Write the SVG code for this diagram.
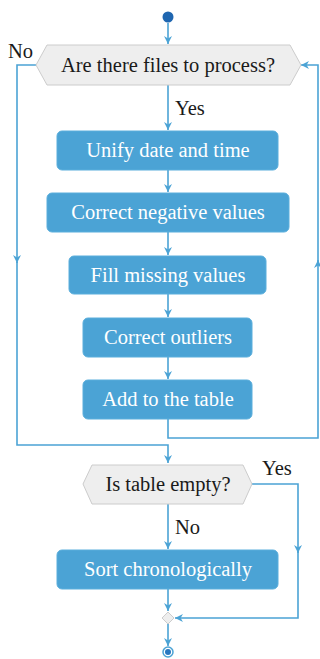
<svg xmlns="http://www.w3.org/2000/svg" width="320" height="659" viewBox="0 0 320 659">
<style>
.box{fill:#4ba3d5;stroke:#5aaedc;stroke-width:1}
.btxt{font-family:"Liberation Serif",serif;font-size:20.5px;fill:#ffffff;text-anchor:middle}
.hex{fill:#eeeeee;stroke:#cccccc;stroke-width:1}
.htxt{font-family:"Liberation Serif",serif;font-size:20.5px;fill:#1a1a1a;text-anchor:middle}
.lbl{font-family:"Liberation Serif",serif;font-size:20.5px;fill:#1a1a1a}
.ln{fill:none;stroke:#4ba3d5;stroke-width:1.6}
</style>
<defs>
<marker id="ah" viewBox="0 0 10 10" refX="10" refY="5" markerWidth="8" markerHeight="8" markerUnits="userSpaceOnUse" orient="auto">
<path d="M0,0 L10,5 L0,10 L3,5 z" fill="#4ba3d5"/>
</marker>
</defs>
<g id="connectors">
<path class="ln" d="M168,23 V44" marker-end="url(#ah)"/>
<path class="ln" d="M168,85 V130" marker-end="url(#ah)"/>
<path class="ln" d="M168,170 V192" marker-end="url(#ah)"/>
<path class="ln" d="M168,232 V255" marker-end="url(#ah)"/>
<path class="ln" d="M168,294 V317" marker-end="url(#ah)"/>
<path class="ln" d="M168,357 V379" marker-end="url(#ah)"/>
<path class="ln" d="M36,65 H17 V263" marker-end="url(#ah)"/>
<path class="ln" d="M17,262 V445 H168 V463" marker-end="url(#ah)"/>
<path class="ln" d="M168,419 V438 H318 V260" marker-end="url(#ah)"/>
<path class="ln" d="M318,262 V65 H301" marker-end="url(#ah)"/>
<path class="ln" d="M168,504 V549" marker-end="url(#ah)"/>
<path class="ln" d="M252,484 H298 V553" marker-end="url(#ah)"/>
<path class="ln" d="M298,551 V618 H175" marker-end="url(#ah)"/>
<path class="ln" d="M168,589 V611" marker-end="url(#ah)"/>
<path class="ln" d="M168,624 V646" marker-end="url(#ah)"/>
</g>
<g id="start"><circle cx="168" cy="17" r="5.5" fill="#1f66b0"/></g>
<g id="q1">
<polygon class="hex" points="36,65 47,45 290,45 301,65 290,85 47,85"/>
<text class="htxt" x="168" y="72">Are there files to process?</text>
</g>
<text class="lbl" x="8" y="58">No</text>
<text class="lbl" x="175" y="115">Yes</text>
<g id="unify">
<rect class="box" x="57" y="131" width="221" height="39" rx="5"/>
<text class="btxt" x="168" y="157">Unify date and time</text>
</g>
<g id="negative">
<rect class="box" x="47" y="193" width="242" height="39" rx="5"/>
<text class="btxt" x="168" y="219">Correct negative values</text>
</g>
<g id="fill">
<rect class="box" x="69" y="256" width="197" height="38" rx="5"/>
<text class="btxt" x="168" y="282">Fill missing values</text>
</g>
<g id="outliers">
<rect class="box" x="83" y="318" width="169" height="39" rx="5"/>
<text class="btxt" x="168" y="344">Correct outliers</text>
</g>
<g id="add">
<rect class="box" x="83" y="380" width="169" height="39" rx="5"/>
<text class="btxt" x="168" y="406">Add to the table</text>
</g>
<g id="q2">
<polygon class="hex" points="83,484 92,465 243,465 252,484 243,504 92,504"/>
<text class="htxt" x="168" y="491">Is table empty?</text>
</g>
<text class="lbl" x="262" y="475">Yes</text>
<text class="lbl" x="175" y="534">No</text>
<g id="sort">
<rect class="box" x="57" y="550" width="221" height="39" rx="5"/>
<text class="btxt" x="168" y="576">Sort chronologically</text>
</g>
<g id="merge"><polygon points="168,612 174,618 168,624 162,618" fill="#eeeeee" stroke="#cccccc" stroke-width="1"/></g>
<g id="end">
<circle cx="168" cy="652" r="5" fill="#ffffff" stroke="#4ba3d5" stroke-width="1.5"/>
<circle cx="168" cy="652" r="3" fill="#2a78c0"/>
</g>
</svg>
